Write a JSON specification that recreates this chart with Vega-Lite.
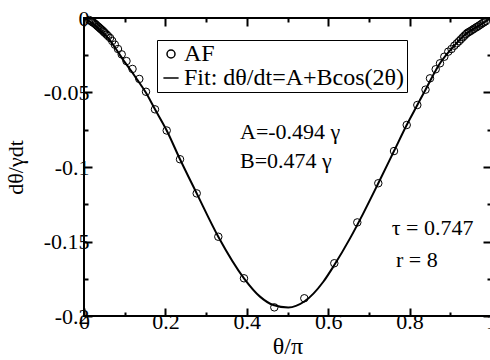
{
  "$schema": "https://vega.github.io/schema/vega-lite/v6.json",
  "width": 407,
  "height": 298,
  "autosize": {"type": "none"},
  "padding": {"left": 84, "top": 18, "right": 0, "bottom": 44},
  "background": "white",
  "datasets": {
    "curve": [
      {"x": 0, "y": 0}, {"x": 0.0197, "y": -0.0034}, {"x": 0.0393, "y": -0.0081}, {"x": 0.059, "y": -0.0134},
      {"x": 0.0786, "y": -0.0208}, {"x": 0.0983, "y": -0.0289}, {"x": 0.1143, "y": -0.0349}, {"x": 0.1302, "y": -0.0412},
      {"x": 0.1523, "y": -0.0502}, {"x": 0.1744, "y": -0.0613}, {"x": 0.2032, "y": -0.0755}, {"x": 0.2359, "y": -0.0948},
      {"x": 0.2769, "y": -0.1177}, {"x": 0.33, "y": -0.1468}, {"x": 0.3931, "y": -0.1747}, {"x": 0.4324, "y": -0.187},
      {"x": 0.4651, "y": -0.1926}, {"x": 0.502, "y": -0.1943}, {"x": 0.5413, "y": -0.1903}, {"x": 0.588, "y": -0.177},
      {"x": 0.615, "y": -0.1658}, {"x": 0.6536, "y": -0.1479}, {"x": 0.6862, "y": -0.1311}, {"x": 0.7231, "y": -0.1109},
      {"x": 0.7617, "y": -0.0893}, {"x": 0.7929, "y": -0.0718}, {"x": 0.819, "y": -0.0584}, {"x": 0.8391, "y": -0.0481},
      {"x": 0.8747, "y": -0.0304}, {"x": 0.9074, "y": -0.0193}, {"x": 0.9403, "y": -0.0103}, {"x": 0.973, "y": -0.0047},
      {"x": 1, "y": 0}
    ],
    "af": [
      {"x": 0.0133, "y": -0.0014, "series": "AF"}, {"x": 0.0167, "y": -0.002, "series": "AF"}, {"x": 0.02, "y": -0.0026, "series": "AF"},
      {"x": 0.0222, "y": -0.003, "series": "AF"}, {"x": 0.025, "y": -0.0035, "series": "AF"}, {"x": 0.0278, "y": -0.0041, "series": "AF"},
      {"x": 0.0303, "y": -0.0047, "series": "AF"}, {"x": 0.0333, "y": -0.0055, "series": "AF"}, {"x": 0.0357, "y": -0.006, "series": "AF"},
      {"x": 0.0385, "y": -0.0067, "series": "AF"}, {"x": 0.0408, "y": -0.0073, "series": "AF"}, {"x": 0.0435, "y": -0.0079, "series": "AF"},
      {"x": 0.0463, "y": -0.0086, "series": "AF"}, {"x": 0.049, "y": -0.0094, "series": "AF"}, {"x": 0.0521, "y": -0.0102, "series": "AF"},
      {"x": 0.0556, "y": -0.0111, "series": "AF"}, {"x": 0.0595, "y": -0.0122, "series": "AF"}, {"x": 0.0641, "y": -0.0134, "series": "AF"},
      {"x": 0.0694, "y": -0.0154, "series": "AF"}, {"x": 0.0758, "y": -0.0179, "series": "AF"}, {"x": 0.0835, "y": -0.0208, "series": "AF"},
      {"x": 0.0926, "y": -0.0244, "series": "AF"}, {"x": 0.1044, "y": -0.0289, "series": "AF"}, {"x": 0.1192, "y": -0.0342, "series": "AF"},
      {"x": 0.1359, "y": -0.0409, "series": "AF"}, {"x": 0.1523, "y": -0.0495, "series": "AF"}, {"x": 0.1744, "y": -0.0613, "series": "AF"},
      {"x": 0.2032, "y": -0.0755, "series": "AF"}, {"x": 0.2359, "y": -0.0948, "series": "AF"}, {"x": 0.2769, "y": -0.1177, "series": "AF"},
      {"x": 0.33, "y": -0.1468, "series": "AF"}, {"x": 0.3931, "y": -0.1747, "series": "AF"}, {"x": 0.4676, "y": -0.1942, "series": "AF"},
      {"x": 0.5413, "y": -0.1881, "series": "AF"}, {"x": 0.615, "y": -0.1646, "series": "AF"}, {"x": 0.6715, "y": -0.1372, "series": "AF"},
      {"x": 0.7231, "y": -0.1109, "series": "AF"}, {"x": 0.7617, "y": -0.0893, "series": "AF"}, {"x": 0.7929, "y": -0.0718, "series": "AF"},
      {"x": 0.819, "y": -0.0584, "series": "AF"}, {"x": 0.8391, "y": -0.0481, "series": "AF"}, {"x": 0.8501, "y": -0.0405, "series": "AF"},
      {"x": 0.8641, "y": -0.0344, "series": "AF"}, {"x": 0.8747, "y": -0.0304, "series": "AF"}, {"x": 0.8853, "y": -0.026, "series": "AF"},
      {"x": 0.895, "y": -0.0226, "series": "AF"}, {"x": 0.9029, "y": -0.0208, "series": "AF"}, {"x": 0.9099, "y": -0.0186, "series": "AF"},
      {"x": 0.916, "y": -0.017, "series": "AF"}, {"x": 0.9213, "y": -0.0156, "series": "AF"}, {"x": 0.9259, "y": -0.0143, "series": "AF"},
      {"x": 0.9306, "y": -0.013, "series": "AF"}, {"x": 0.9346, "y": -0.0119, "series": "AF"}, {"x": 0.9387, "y": -0.0108, "series": "AF"},
      {"x": 0.9425, "y": -0.0099, "series": "AF"}, {"x": 0.9462, "y": -0.0093, "series": "AF"}, {"x": 0.95, "y": -0.0087, "series": "AF"},
      {"x": 0.9545, "y": -0.0079, "series": "AF"}, {"x": 0.9583, "y": -0.0072, "series": "AF"}, {"x": 0.963, "y": -0.0064, "series": "AF"},
      {"x": 0.9667, "y": -0.0058, "series": "AF"}, {"x": 0.9706, "y": -0.0051, "series": "AF"}, {"x": 0.975, "y": -0.0043, "series": "AF"},
      {"x": 0.9792, "y": -0.0035, "series": "AF"}, {"x": 0.9833, "y": -0.0028, "series": "AF"}, {"x": 0.9875, "y": -0.0021, "series": "AF"}
    ],
    "notes1": [
      {"x": 0.3833, "y": -0.0815, "label": "A=-0.494 γ"},
      {"x": 0.3833, "y": -0.1009, "label": "B=0.474 γ"}
    ],
    "notes2": [
      {"x": 0.756, "y": -0.1456, "label": "τ = 0.747"},
      {"x": 0.7666, "y": -0.1673, "label": "r = 8"}
    ]
  },
  "layer": [
    {
      "data": {"name": "curve"},
      "mark": {"type": "line", "color": "black", "strokeWidth": 2, "interpolate": "monotone"},
      "encoding": {
        "x": {"field": "x", "type": "quantitative", "scale": {"domain": [0, 1], "nice": false, "zero": false},
          "axis": {"orient": "bottom", "values": [0, 0.2, 0.4, 0.6, 0.8, 1], "tickSize": -8, "labelPadding": 3,
            "title": "θ/π", "titleFontSize": 24, "titlePadding": 2, "labelExpr": "toString(datum.value)"}},
        "y": {"field": "y", "type": "quantitative", "scale": {"domain": [-0.2, 0], "nice": false, "zero": false},
          "axis": {"orient": "left", "values": [0, -0.05, -0.1, -0.15, -0.2], "tickSize": -8, "labelPadding": 3,
            "title": "dθ/γdt", "titlePadding": 16, "labelExpr": "toString(datum.value)"}}
      }
    },
    {
      "data": {"name": "af"},
      "mark": {"type": "point", "filled": false, "color": "black", "strokeWidth": 1, "size": 56, "opacity": 1},
      "encoding": {
        "x": {"field": "x", "type": "quantitative",
          "axis": {"orient": "bottom", "values": [0.1, 0.3, 0.5, 0.7, 0.9], "tickSize": -4, "labels": false, "title": null}},
        "y": {"field": "y", "type": "quantitative",
          "axis": {"orient": "left", "values": [-0.025, -0.075, -0.125, -0.175], "tickSize": -4, "labels": false, "title": null}},
        "shape": {"field": "series", "type": "nominal",
          "scale": {"domain": ["AF", "Fit: dθ/dt=A+Bcos(2θ)"], "range": ["circle", "M-1.9,0L1.9,0"]},
          "legend": {"orient": "none", "legendX": 73, "legendY": 22, "title": null, "strokeColor": "black",
            "padding": 2, "labelFont": "Liberation Serif", "labelFontSize": 24, "labelColor": "black", "labelLimit": 0,
            "symbolSize": 64, "symbolStrokeWidth": 1.5, "symbolStrokeColor": "black", "labelOffset": 1, "rowPadding": 0}}
      }
    },
    {
      "data": {"name": "notes1"},
      "mark": {"type": "text", "align": "left", "baseline": "alphabetic", "font": "Liberation Serif", "fontSize": 22, "color": "black"},
      "encoding": {
        "x": {"field": "x", "type": "quantitative",
          "axis": {"orient": "top", "values": [0, 0.2, 0.4, 0.6, 0.8, 1], "tickSize": -8, "labels": false, "title": null}},
        "y": {"field": "y", "type": "quantitative",
          "axis": {"orient": "right", "values": [0, -0.05, -0.1, -0.15, -0.2], "tickSize": -8, "labels": false, "title": null}},
        "text": {"field": "label"}
      }
    },
    {
      "data": {"name": "notes2"},
      "mark": {"type": "text", "align": "left", "baseline": "alphabetic", "font": "Liberation Serif", "fontSize": 22, "color": "black"},
      "encoding": {
        "x": {"field": "x", "type": "quantitative",
          "axis": {"orient": "top", "values": [0.1, 0.3, 0.5, 0.7, 0.9], "tickSize": -4, "labels": false, "title": null}},
        "y": {"field": "y", "type": "quantitative",
          "axis": {"orient": "right", "values": [-0.025, -0.075, -0.125, -0.175], "tickSize": -4, "labels": false, "title": null}},
        "text": {"field": "label"}
      }
    }
  ],
  "resolve": {"axis": {"x": "independent", "y": "independent"}},
  "config": {
    "view": {"stroke": "black", "strokeWidth": 2},
    "axis": {"labelFont": "Liberation Serif", "labelFontSize": 22, "labelColor": "black", "titleFont": "Liberation Serif",
      "titleFontSize": 22, "titleColor": "black", "titleFontWeight": "normal", "tickColor": "black", "tickWidth": 2,
      "grid": false, "domain": false, "labelFlush": false, "labelOverlap": false}
  }
}
